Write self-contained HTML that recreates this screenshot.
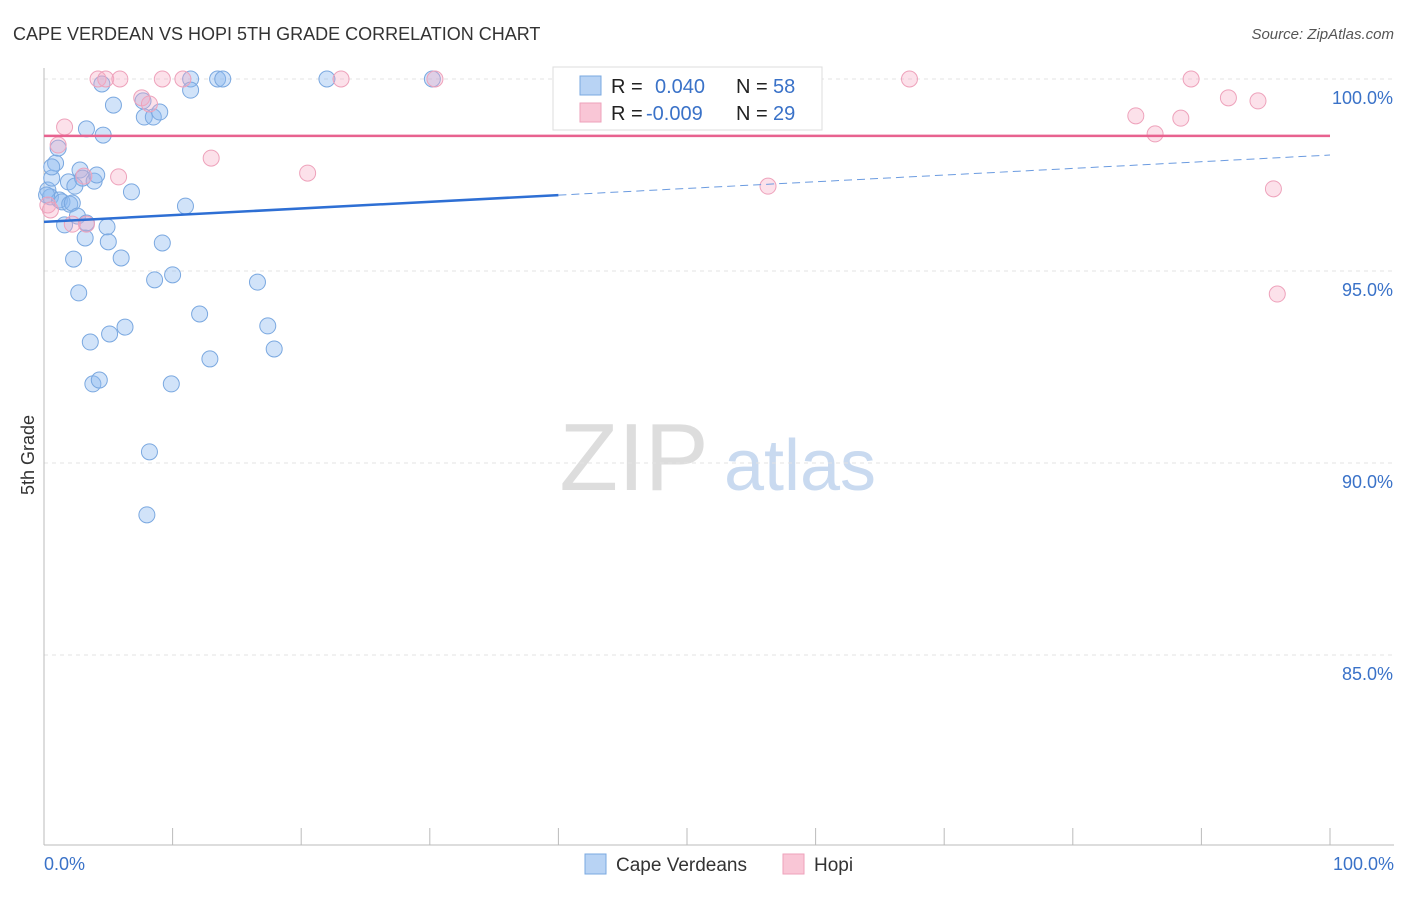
<!DOCTYPE html>
<html><head><meta charset="utf-8"><style>
body{margin:0;background:#fff;font-family:"Liberation Sans",sans-serif;}
svg text{font-family:"Liberation Sans",sans-serif;}
</style></head><body>
<svg id="chart" width="1406" height="892" xmlns="http://www.w3.org/2000/svg">
<text x="13" y="40" font-size="18" fill="#333">CAPE VERDEAN VS HOPI 5TH GRADE CORRELATION CHART</text>
<text x="1394" y="39" font-size="15" fill="#555" font-style="italic" text-anchor="end">Source: ZipAtlas.com</text>
<text x="34" y="455" font-size="18" fill="#333" transform="rotate(-90 34 455)" text-anchor="middle">5th Grade</text>
<g><text x="634" y="490" font-size="96" fill="#ddd" font-family="Liberation Serif" text-anchor="middle">ZIP</text><text x="800" y="490" font-size="72" fill="#c9daf0" text-anchor="middle">atlas</text></g>
<g id="grid"></g><g id="axes"></g><g id="pts"></g><g id="trend"></g>
<g>
<rect x="553" y="67" width="269" height="63" fill="#fff" stroke="#ddd"/>
<rect x="580" y="76" width="21" height="19" fill="#b8d3f4" stroke="#7aa8e0"/>
<rect x="580" y="103" width="21" height="19" fill="#f9c6d6" stroke="#eea2bb"/>
<text x="611" y="93" font-size="20" fill="#222">R = </text><text x="655" y="93" font-size="20" fill="#3a72c8">0.040</text>
<text x="736" y="93" font-size="20" fill="#222">N = </text><text x="773" y="93" font-size="20" fill="#3a72c8">58</text>
<text x="611" y="120" font-size="20" fill="#222">R = </text><text x="646" y="120" font-size="20" fill="#3a72c8">-0.009</text>
<text x="736" y="120" font-size="20" fill="#222">N = </text><text x="773" y="120" font-size="20" fill="#3a72c8">29</text>
</g>
<g>
<rect x="585" y="854" width="21" height="20" fill="#b8d3f4" stroke="#7aa8e0"/><text x="616" y="871" font-size="19" fill="#333">Cape Verdeans</text>
<rect x="783" y="854" width="21" height="20" fill="#f9c6d6" stroke="#eea2bb"/><text x="814" y="871" font-size="19" fill="#333">Hopi</text>
</g>
<text x="44" y="870" font-size="18" fill="#3a72c8">0.0%</text>
<text x="1394" y="870" font-size="18" fill="#3a72c8" text-anchor="end">100.0%</text>
</svg>
<script>
const yTicks=[100,95,90,85];
const yTickLabels=["100.0%","95.0%","90.0%","85.0%"];
const blueX=[0.3,0.5,0.6,0.9,1.1,1.2,1.4,1.6,1.9,2.0,2.2,2.4,2.6,2.8,3.0,3.2,3.3,3.3,3.9,4.1,4.6,4.5,4.9,5.0,5.4,6.0,2.3,2.7,3.6,3.8,4.3,5.1,6.3,6.8,7.7,7.8,8.5,9.0,8.6,9.2,10.0,9.9,11.0,11.4,11.4,12.1,12.9,13.5,13.9,8.2,8.0,16.6,17.4,17.9,22.0,30.2,0.6,0.2];
const blueY=[97.11,96.93,97.42,97.81,98.20,96.85,96.80,96.20,97.32,96.74,96.77,97.21,96.43,97.63,97.42,95.86,96.25,98.70,97.34,97.50,98.54,99.87,96.15,95.76,99.32,95.34,95.31,94.43,93.15,92.06,92.16,93.36,93.54,97.06,99.43,99.01,99.01,99.14,94.77,95.73,94.90,92.06,96.69,100,99.71,93.88,92.71,100,100,90.29,88.65,94.71,93.57,92.97,100,100,97.71,96.98];
const pinkX=[0.3,0.5,1.1,1.6,3.1,3.3,2.2,4.2,4.8,5.9,5.8,7.6,8.2,9.2,10.8,13.0,20.5,23.1,30.4,56.3,67.3,84.9,86.4,88.4,89.2,92.1,94.4,95.6,95.9];
const pinkY=[96.72,96.59,98.28,98.75,97.47,96.22,96.22,100,100,100,97.45,99.51,99.35,100,100,97.94,97.55,100,100,97.21,100,99.04,98.57,98.98,100,99.51,99.43,97.14,94.40];
const blueTrend=[96.28,98.02];
const pinkTrend=[98.52,98.52];
const NS="http://www.w3.org/2000/svg";
const X0=44,X1=1330,Y100=79,PX5=192;
const sx=v=>X0+(X1-X0)*v/100;
const sy=v=>Y100+(100-v)/5*PX5;
function mk(t,a,p){const e=document.createElementNS(NS,t);for(const k in a)e.setAttribute(k,a[k]);p.appendChild(e);return e;}
const grid=document.getElementById('grid'),axes=document.getElementById('axes'),pts=document.getElementById('pts'),tr=document.getElementById('trend');
yTicks.forEach((t,i)=>{
 const l=mk('line',{x1:X0,x2:1394,y1:sy(t),y2:sy(t),stroke:'#e3e3e3','stroke-dasharray':'4,4'},grid);
 
 
 const tx=mk('text',{x:1393,y:sy(t)+25,'font-size':18,fill:'#3a72c8','text-anchor':'end'},grid);
 tx.textContent=yTickLabels[i];
 
 
});
const ya=mk('line',{x1:X0,x2:X0,y1:68,y2:845,stroke:'#bbb'},axes);


const xa=mk('line',{x1:X0,x2:1394,y1:845,y2:845,stroke:'#bbb'},axes);


for(let i=0;i<=10;i++){const t=mk('line',{x1:sx(i*10),x2:sx(i*10),y1:828,y2:845,stroke:'#bbb'},axes);
 
 }
function dots(xs,ys,fill,stroke,name){xs.forEach((x,i)=>{const c=mk('circle',{cx:sx(x),cy:sy(ys[i]),r:8,fill:fill,stroke:stroke,'stroke-width':1},pts);
 
 });}
dots(blueX,blueY,'rgba(140,185,240,0.4)','#7aa8e0','point-cape-verdean');
dots(pinkX,pinkY,'rgba(245,170,195,0.35)','#eea2bb','point-hopi');
const split=40;
const b1=mk('line',{x1:sx(0),y1:sy(blueTrend[0]),x2:sx(split),y2:sy(blueTrend[0]+(blueTrend[1]-blueTrend[0])*split/100),stroke:'#2e6fd4','stroke-width':2.5},tr);


const b2=mk('line',{x1:sx(split),y1:sy(blueTrend[0]+(blueTrend[1]-blueTrend[0])*split/100),x2:sx(100),y2:sy(blueTrend[1]),stroke:'#6b9be0','stroke-width':1,'stroke-dasharray':'8,5'},tr);


const p1=mk('line',{x1:sx(0),y1:sy(pinkTrend[0]),x2:sx(100),y2:sy(pinkTrend[1]),stroke:'#e8628f','stroke-width':2.5},tr);


</script>
</body></html>
